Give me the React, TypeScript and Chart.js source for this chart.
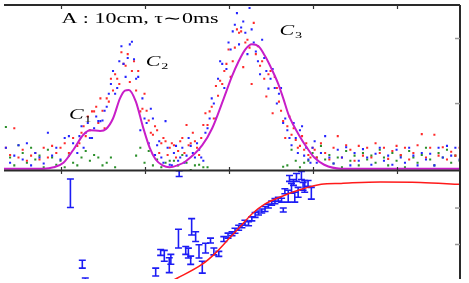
import { useEffect, useRef } from "react";
import { Chart, registerables } from "chart.js";

Chart.register(...registerables);

// ---- shared time bins (top panel) ----
const bins = [
  7, 8, 9, 10, 11, 12, 13, 14, 15, 16, 17, 18, 19, 20, 21, 22, 23, 24, 25, 26,
  27, 28, 29, 30, 31, 32, 33, 34, 35, 36, 37, 38, 39, 40, 41, 42, 43, 44, 45, 46,
  47, 48, 49, 50, 51, 52, 53, 54, 55, 56, 57, 58, 59, 60, 61, 62, 63, 64, 65, 66,
  67, 68, 69, 70, 71, 72, 73, 74, 75, 76, 77, 78, 79, 80, 81, 82, 83, 84, 85, 86,
  87, 88, 89, 90, 91, 92, 93, 94, 95, 96, 97, 98, 99, 100, 101, 102, 103, 104, 105, 106,
  107, 108, 109, 110, 111, 112, 113, 114, 115,
];
const binsHalf = [
  24.5, 25.5, 26.5, 27.5, 28.5, 29.5, 30.5, 31.5, 32.5, 33.5, 34.5, 35.5, 36.5, 37.5,
  38.5, 39.5, 40.5, 41.5, 42.5, 43.5, 44.5, 45.5, 46.5, 47.5, 48.5, 49.5, 50.5, 51.5,
  52.5, 53.5, 54.5, 55.5, 56.5, 57.5, 58.5, 59.5, 60.5, 61.5, 62.5, 63.5, 64.5, 65.5,
  66.5, 67.5, 68.5, 69.5, 70.5, 71.5, 72.5, 73.5, 74.5, 75.5, 76.5, 77.5, 78.5, 79.5, 80.5,
];

const redCounts = [
  32, 21, 62, 17, 29, 12, 20, 24, 14, 32,
  17, 35, 24, 32, 39, 24, 47, 35, 55, 50,
  59, 88, 70, 89, 108, 138, 145, 130, 161, 176,
  150, 120, 88, 115, 74, 52, 59, 39, 42, 32,
  36, 27, 47, 67, 39, 42, 21, 67, 67, 95,
  127, 135, 150, 183, 165, 214, 211, 194, 186, 224,
  188, 165, 111, 150, 141, 103, 73, 65, 52, 44,
  35, 29, 21, 32, 17, 39, 24, 14, 32, 50,
  17, 36, 29, 12, 35, 20, 32, 17, 39, 24,
  32, 15, 27, 35, 21, 32, 14, 24, 36, 53,
  17, 32, 52, 20, 33, 14, 26, 20, 32,
];
const redCountsHalf = [
  39, 65, 80, 88, 95, 108, 62, 103, 120, 138,
  179, 158, 133, 165, 150, 92, 89, 55, 65, 24,
  47, 21, 39, 17, 42, 24, 36, 55, 32, 47,
  85, 88, 77, 112, 130, 161, 141, 186, 209, 156,
  198, 130, 176, 158, 138, 145, 85, 124, 89, 47,
  80, 62, 32, 50, 39, 17, 29,
];
const blueCounts = [
  32, 9, 20, 36, 14, 39, 5, 24, 17, 8,
  55, 20, 32, 14, 47, 50, 39, 24, 65, 55,
  47, 62, 73, 74, 95, 130, 115, 165, 161, 170,
  195, 138, 59, 77, 39, 77, 36, 17, 73, 6,
  24, 12, 32, 20, 35, 17, 29, 12, 62, 108,
  77, 165, 124, 194, 211, 239, 217, 209, 247, 194,
  165, 198, 150, 138, 124, 115, 70, 59, 36, 47,
  59, 20, 14, 32, 9, 24, 50, 17, 8, 29,
  17, 33, 5, 24, 12, 30, 17, 6, 23, 32,
  12, 20, 6, 29, 17, 9, 32, 20, 5, 24,
  14, 23, 5, 32, 17, 35, 20, 32, 14,
];
const blueCountsHalf = [
  50, 32, 70, 47, 80, 73, 89, 115, 150, 124,
  188, 141, 191, 168, 141, 108, 70, 92, 21, 42,
  9, 32, 5, 35, 17, 9, 47, 24, 39, 17,
  55, 77, 100, 138, 161, 153, 183, 221, 191, 226,
  176, 214, 180, 145, 170, 123, 153, 100, 124, 77,
  47, 70, 24, 65, 32, 9, 42,
];
const greenCounts = [
  64, 17, 5, 36, 24, 9, 32, 14, 20, 2,
  29, 17, 6, 12, 2, 20, 9, 5, 17, 27,
  12, 21, 17, 5, 9, 17, 2, null, null, null,
  null, 20, 32, 9, 27, 5, 14, 2, 9, 12,
  12, 5, 21, 9, -2, 5, 6, 2, 2, null,
  null, null, null, null, null, null, null, null, null, null,
  null, null, null, null, null, null, 3, 5, 29, 12,
  2, 9, 12, 24, 17, 35, 14, 21, 8, 17,
  2, 27, 12, 20, 5, 24, 14, 20, 9, 29,
  17, 5, 24, 12, 20, 2, 27, 17, 9, 21,
  32, 14, 5, 24, 17, 29, 9, 20, 12,
];

// ---- fitted profile (magenta) ----
const fitX = [
  6.55, 16, 18.35, 20.7, 23.07, 25.43, 27.08, 29.44, 30.86, 32.5, 34.16, 35.34, 36.28,
  37.94, 39.59, 41.24, 42.66, 44.3, 45.96, 47.85, 49.74, 53.75, 56.11, 58.87, 60.83,
  62.41, 63.97, 65.55, 67.13, 68.69, 70.27, 71.85, 73.03, 74.28, 76.64, 79.0, 80.42,
  82.77, 86.79, 115.1,
];
const fitY = [
  0, 0, 2, 9, 29, 52, 59, 58, 61, 77, 108, 120, 121,
  103, 65, 32, 14, 5, 2, 5, 11, 36, 62, 108, 142,
  165, 183, 191, 188, 173, 153, 130, 108, 83, 53, 29, 17,
  6, 0, 0,
];

// ---- bottom panel: measured points with errors and model curve ----
const errX = [
  22.36, 25.19, 25.9, 42.66, 43.84, 44.71, 45.89, 46.27, 48.08, 48.25,
  49.81, 50.44, 50.99, 51.22, 52.17, 52.97, 53.75, 54.53, 55.71, 56.51,
  57.69, 58.87, 59.88, 60.83, 61.54, 62.41, 63.19, 63.9, 64.77, 65.55,
  66.33, 67.13, 67.91, 68.69, 69.49, 70.27, 71.05, 71.85, 72.63, 73.03,
  73.41, 74.21, 74.99, 75.77, 76.57, 77.75, 78.93, 78.13, 79.71, 74.51,
  76.17, 77.35, 75.46,
];
const errY = [
  1.405, -0.541, -1.027, -0.757, -0.216, -0.311, -0.568, -0.405, 0.162, 1.946,
  -0.162, -0.235, -0.432, 0.486, 0.216, -0.189, -0.622, -0.1, 0.108, -0.189,
  -0.257, 0.149, 0.243, 0.297, 0.378, 0.459, 0.514, 0.595, 0.568, 0.703,
  0.811, 0.865, 0.919, 0.973, 1.054, 1.135, 1.189, 1.243, 1.216, 0.946,
  1.459, 1.324, 1.541, 1.297, 1.432, 1.595, 1.676, 1.595, 1.405, 1.811,
  1.838, 1.892, 1.703,
];
const errE = [
  0.392, 0.108, 0.108, 0.108, 0.081, 0.149, 0.203, 0.135, 0.257, 0.081,
  0.108, 0.135, 0.114, 0.224, 0.135, 0.181, 0.162, 0.135, 0.068, 0.095,
  0.068, 0.068, 0.068, 0.054, 0.068, 0.068, 0.054, 0.068, 0.054, 0.054,
  0.068, 0.054, 0.054, 0.068, 0.054, 0.054, 0.068, 0.054, 0.054, 0.054,
  0.068, 0.162, 0.135, 0.135, 0.135, 0.108, 0.081, 0.162, 0.162, 0.081,
  0.108, 0.108, 0.081,
];
const modelX = [45.49, 47.85, 53.75, 56.82, 60.12, 63.19, 65.55, 68.62, 73.34, 77.35, 82.07, 86.79, 96.23, 105.67, 115.1];
const modelY = [-1.054, -0.919, -0.541, -0.243, 0.162, 0.541, 0.838, 1.108, 1.351, 1.514, 1.649, 1.676, 1.716, 1.703, 1.649];

// ---- ticks and labels ----
const xTicks = [20, 40, 60, 80, 100];
const topTicks = [100, 200];
const bottomTicks = [0, 1];
const titleText = "A : 10cm, \u03c4\u223c0ms";
const peakNames = ["1", "2", "3"];
const peakAnchorX = [22.0, 40.3, 72.15];
const peakAnchorY = [77, 158, 206];

const pts = (xs: number[], ys: (number | null)[]) =>
  xs.map((x, i) => ({ x, y: ys[i] as number }));

const framePlugin = {
  id: "frame",
  beforeDatasetsDraw(chart: any) {
    const { ctx } = chart;
    const x = chart.scales.x;
    const yb = chart.scales.yBot;
    ctx.save();
    ctx.beginPath();
    ctx.rect(x.left, yb.top, x.right - x.left, yb.bottom - yb.top);
    ctx.clip();
    ctx.strokeStyle = "#1c1cf5";
    ctx.lineWidth = 1.6;
    errX.forEach((v, i) => {
      const px = x.getPixelForValue(v);
      const hi = yb.getPixelForValue(errY[i] + errE[i]);
      const lo = yb.getPixelForValue(errY[i] - errE[i]);
      ctx.beginPath();
      ctx.moveTo(px, hi);
      ctx.lineTo(px, lo);
      ctx.moveTo(px - 3.5, hi);
      ctx.lineTo(px + 3.5, hi);
      ctx.moveTo(px - 3.5, lo);
      ctx.lineTo(px + 3.5, lo);
      ctx.stroke();
    });
    ctx.restore();
  },
  afterDatasetsDraw(chart: any) {
    const { ctx } = chart;
    const x = chart.scales.x;
    const yt = chart.scales.yTop;
    const yb = chart.scales.yBot;
    ctx.save();
    // frame
    ctx.strokeStyle = "#2a2a2a";
    ctx.lineWidth = 2;
    ctx.beginPath();
    ctx.moveTo(x.left, yt.top);
    ctx.lineTo(x.right, yt.top);
    ctx.moveTo(x.right, yt.top);
    ctx.lineTo(x.right, yb.bottom);
    ctx.moveTo(x.left, yt.bottom);
    ctx.lineTo(x.right, yt.bottom);
    ctx.stroke();
    // x ticks
    ctx.lineWidth = 1.2;
    ctx.strokeStyle = "#333";
    xTicks.forEach((v) => {
      const px = Math.round(x.getPixelForValue(v)) + 0.5;
      ctx.beginPath();
      ctx.moveTo(px, yt.top);
      ctx.lineTo(px, yt.top + 4);
      ctx.moveTo(px, yt.bottom - 3.5);
      ctx.lineTo(px, yt.bottom + 3.5);
      ctx.stroke();
    });
    // y ticks on right
    ctx.strokeStyle = "#999";
    ctx.lineWidth = 1.5;
    topTicks.forEach((v) => {
      const py = yt.getPixelForValue(v);
      ctx.beginPath();
      ctx.moveTo(x.right - 5, py);
      ctx.lineTo(x.right, py);
      ctx.stroke();
    });
    bottomTicks.forEach((v) => {
      const py = yb.getPixelForValue(v);
      ctx.beginPath();
      ctx.moveTo(x.right - 5, py);
      ctx.lineTo(x.right, py);
      ctx.stroke();
    });
    // text
    ctx.fillStyle = "#000";
    ctx.textBaseline = "alphabetic";
    ctx.font = '14px "Liberation Serif"';
    const w = ctx.measureText(titleText).width;
    const sx = 157 / w;
    ctx.save();
    ctx.translate(x.getPixelForValue(20.24), yt.getPixelForValue(224));
    ctx.scale(sx, 1);
    ctx.fillText(titleText, 0, 0);
    ctx.restore();
    peakNames.forEach((n, i) => {
      const px = x.getPixelForValue(peakAnchorX[i]);
      const py = yt.getPixelForValue(peakAnchorY[i]);
      ctx.save();
      ctx.translate(px, py);
      ctx.scale(sx, 1);
      ctx.font = 'italic 14px "Liberation Serif"';
      ctx.fillText("C", 0, 0);
      const cw = ctx.measureText("C").width;
      ctx.font = '9px "Liberation Serif"';
      ctx.fillText(n, cw + 0.5, 3);
      ctx.restore();
    });
    ctx.restore();
  },
};

export default function App() {
  const ref = useRef<HTMLCanvasElement | null>(null);
  useEffect(() => {
    if (!ref.current) return;
    const chart = new Chart(ref.current, {
      type: "scatter",
      data: {
        datasets: [
          {
            type: "line",
            label: "fit",
            data: pts(fitX, fitY),
            yAxisID: "yTop",
            borderColor: "#c81ec8",
            borderWidth: 2,
            pointRadius: 0,
            cubicInterpolationMode: "monotone",
            order: 0,
          } as any,
          {
            type: "line",
            label: "model",
            data: pts(modelX, modelY),
            yAxisID: "yBot",
            borderColor: "#ff1a1a",
            borderWidth: 1.5,
            pointRadius: 0,
            cubicInterpolationMode: "monotone",
            order: 0,
          } as any,
          {
            label: "blue",
            data: [...pts(bins, blueCounts), ...pts(binsHalf, blueCountsHalf)],
            yAxisID: "yTop",
            pointStyle: "rect",
            pointRadius: 1.45,
            borderWidth: 0,
            backgroundColor: "#2424ff",
            order: 1,
          },
          {
            label: "red",
            data: [...pts(bins, redCounts), ...pts(binsHalf, redCountsHalf)],
            yAxisID: "yTop",
            pointStyle: "rect",
            pointRadius: 1.45,
            borderWidth: 0,
            backgroundColor: "#ff2a2a",
            order: 2,
          },
          {
            label: "green",
            data: pts(bins, greenCounts).filter((p) => p.y !== null),
            yAxisID: "yTop",
            pointStyle: "rect",
            pointRadius: 1.45,
            borderWidth: 0,
            backgroundColor: "#2a8f2a",
            order: 3,
          },
        ],
      },
      options: {
        animation: false,
        responsive: true,
        maintainAspectRatio: false,
        events: [],
        layout: { padding: { top: 5, left: 0, right: 9, bottom: 0 } },
        plugins: { legend: { display: false }, tooltip: { enabled: false } },
        scales: {
          x: { type: "linear", min: 6.55, max: 115.1, display: false },
          yTop: {
            type: "linear",
            position: "right",
            stack: "panels",
            stackWeight: 168,
            min: -3,
            max: 251.5,
            display: false,
          },
          yBot: {
            type: "linear",
            position: "right",
            stack: "panels",
            stackWeight: 110,
            min: -0.946,
            max: 2.027,
            display: false,
          },
        } as any,
      },
      plugins: [framePlugin],
    });
    return () => chart.destroy();
  }, []);
  return (
    <div style={{ position: "absolute", left: 0, top: 0, width: 469, height: 283, background: "#fff" }}>
      <canvas ref={ref} />
    </div>
  );
}
